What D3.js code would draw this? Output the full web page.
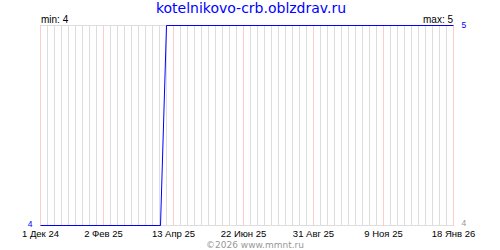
<!DOCTYPE html>
<html><head><meta charset="utf-8">
<script src="https://cdn.jsdelivr.net/npm/d3@7"></script>
<style>html,body{margin:0;padding:0;background:#fff;} svg{display:block;}</style>
</head><body>
<script>
const titleText = "kotelnikovo-crb.oblzdrav.ru";
const copyrightText = "©2026 www.mmnt.ru";
const dates = ["2024-12-01", "2025-03-31", "2025-04-06", "2026-01-18"];
const values = [4, 4, 5, 5];
const tickDates = ["2024-12-01", "2025-02-02", "2025-04-13", "2025-06-22", "2025-08-31", "2025-11-09", "2026-01-18"];
const tickLabels = ["1 Дек 24", "2 Фев 25", "13 Апр 25", "22 Июн 25", "31 Авг 25", "9 Ноя 25", "18 Янв 26"];
const minLabel = "min: 4", maxLabel = "max: 5";

const W = 500, H = 250;
const parse = d3.utcParse("%Y-%m-%d");
const x = d3.scaleUtc().domain([parse(dates[0]), parse(dates[dates.length-1])]).range([40, 453]);
const y = d3.scaleLinear().domain([4, 5]).range([225, 25]);

const svg = d3.select("body").append("svg").attr("width", W).attr("height", H)
  .style("font-family", "Liberation Sans");

// weekly grid
const weeks = d3.utcWeek.range(x.domain()[0], d3.utcDay.offset(x.domain()[1], 1));
svg.append("g").selectAll("line").data(weeks).join("line")
  .attr("x1", d => Math.round(x(d)) + 0.5).attr("x2", d => Math.round(x(d)) + 0.5)
  .attr("y1", 25).attr("y2", 225)
  .attr("stroke", "#dddddd").attr("stroke-width", 1);
// horizontal frame
[4, 5].forEach(v => {
  svg.append("line").attr("x1", 40).attr("x2", 454)
    .attr("y1", y(v) + 0.5).attr("y2", y(v) + 0.5)
    .attr("stroke", "#dddddd");
});
// red tick lines
const ticks = tickDates.map(parse);
svg.append("g").selectAll("line").data(ticks).join("line")
  .attr("x1", d => Math.round(x(d)) + 0.5).attr("x2", d => Math.round(x(d)) + 0.5)
  .attr("y1", 25).attr("y2", 226)
  .attr("stroke", "#ffcccc");

// axis labels
svg.append("g").selectAll("text").data(ticks).join("text")
  .attr("x", d => x(d) + 0.5).attr("y", 236.5)
  .attr("text-anchor", "middle").attr("font-size", 9.5).attr("fill", "#000")
  .text((d, i) => tickLabels[i]);

// data line
const pts = dates.map((d, i) => [parse(d), values[i]]);
svg.append("path").datum(pts)
  .attr("fill", "none").attr("stroke", "#0000ff").attr("stroke-width", 1)
  .attr("d", d3.line().x(d => Math.round(x(d[0])) + 0.5).y(d => y(d[1]) + 0.5));

// title
svg.append("text").attr("x", 251).attr("y", 13).attr("text-anchor", "middle")
  .attr("font-family", "DejaVu Sans")
  .attr("font-size", 14).attr("fill", "#0000ff").text(titleText);
// min / max
svg.append("text").attr("x", 41).attr("y", 22.5).attr("font-size", 10).attr("fill", "#000").text(minLabel);
svg.append("text").attr("x", 453).attr("y", 22.5).attr("text-anchor", "end").attr("font-size", 10).attr("fill", "#000").text(maxLabel);
// y labels
svg.append("text").attr("x", 461.5).attr("y", y(5) + 3).attr("font-size", 8.5).attr("fill", "#0000ff").text("5");
svg.append("text").attr("x", 32.5).attr("y", y(4) + 1.5).attr("text-anchor", "end").attr("font-size", 8.5).attr("fill", "#0000ff").text("4");
svg.append("text").attr("x", 461.5).attr("y", y(4) + 1).attr("font-size", 8.5).attr("fill", "#999").text("4");
// copyright
svg.append("text").attr("x", 255).attr("y", 248).attr("text-anchor", "middle")
  .attr("font-family", "DejaVu Sans")
  .attr("font-size", 9).attr("fill", "#999").text(copyrightText);
</script>
</body></html>
